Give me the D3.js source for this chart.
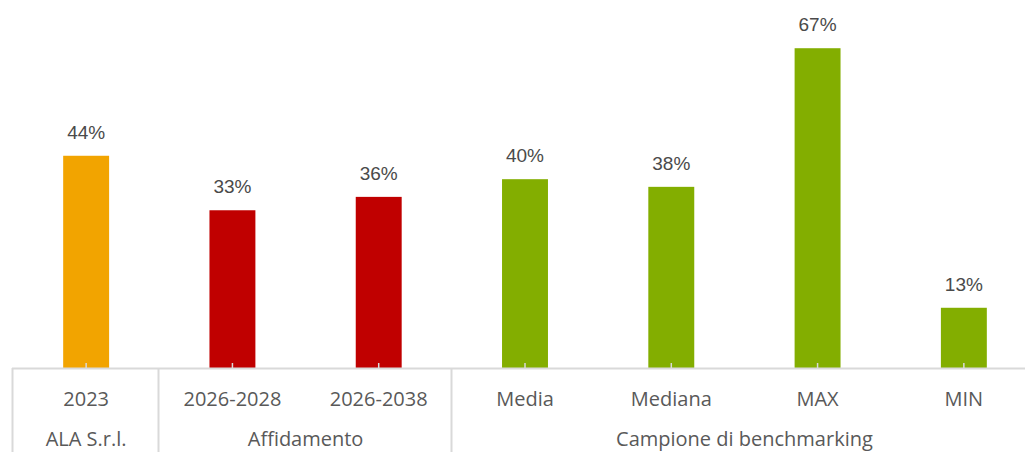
<!DOCTYPE html>
<html>
<head>
<meta charset="utf-8">
<script src="https://cdn.jsdelivr.net/npm/d3@7"></script>
<style>
  body { margin: 0; background: #fff; overflow: hidden; }
  svg { display: block; }
</style>
</head>
<body>
<script>
// chart data
const categories = ['2023', '2026-2028', '2026-2038', 'Media', 'Mediana', 'MAX', 'MIN'];
const values = [0.444, 0.33, 0.358, 0.395, 0.379, 0.669, 0.126];
const barColors = ['#F2A400', '#C00000', '#C00000', '#83AE00', '#83AE00', '#83AE00', '#83AE00'];
const groupNames = ['ALA S.r.l.', 'Affidamento', 'Campione di benchmarking'];
const groupOf = [0, 1, 1, 2, 2, 2, 2];

const width = 1025;
const height = 452;
const baseY = 368;

const svg = d3.select('body')
  .append('svg')
    .attr('width', width)
    .attr('height', height);

const xScale = d3.scaleBand()
  .domain(categories)
  .range([13, 1037])
  .paddingInner(0.686)
  .paddingOuter(0.343);

const yScale = d3.scaleLinear()
  .domain([0, 0.8])
  .range([baseY, baseY - 0.8 * 478]);

const fmt = d3.format('.0%');

// bars
svg.selectAll('rect.bar')
  .data(values)
  .enter().append('rect')
    .attr('class', 'bar')
    .attr('x', (d, i) => xScale(categories[i]))
    .attr('width', xScale.bandwidth())
    .attr('y', (d) => yScale(d))
    .attr('height', (d) => baseY - yScale(d))
    .attr('fill', (d, i) => barColors[i]);

// value labels
svg.selectAll('text.value')
  .data(values)
  .enter().append('text')
    .attr('class', 'value')
    .attr('x', (d, i) => xScale(categories[i]) + xScale.bandwidth() / 2)
    .attr('y', (d) => yScale(d) - 17)
    .attr('text-anchor', 'middle')
    .style('font-family', '"Liberation Sans", Arial, sans-serif')
    .style('font-size', '19px')
    .style('fill', '#4a4a4a')
    .text((d) => fmt(d));

// axis line and little ticks
const step = xScale.step();
svg.append('line')
  .attr('x1', 12).attr('x2', width)
  .attr('y1', baseY + 0.5).attr('y2', baseY + 0.5)
  .attr('stroke', '#d9d9d9')
  .attr('stroke-width', 2);

svg.selectAll('line.tick')
  .data(categories)
  .enter().append('line')
    .attr('class', 'tick')
    .attr('x1', (d) => xScale(d) + xScale.bandwidth() / 2)
    .attr('x2', (d) => xScale(d) + xScale.bandwidth() / 2)
    .attr('y1', baseY - 5).attr('y2', baseY)
    .attr('stroke', '#d9d9d9')
    .attr('stroke-width', 1.5);

// category labels
svg.selectAll('text.cat')
  .data(categories)
  .enter().append('text')
    .attr('class', 'cat')
    .attr('x', (d) => xScale(d) + xScale.bandwidth() / 2)
    .attr('y', 406)
    .attr('text-anchor', 'middle')
    .style('font-family', '"Open Sans", sans-serif')
    .style('font-size', '20px')
    .style('fill', '#595959')
    .text((d) => d);

// group separators and labels
const groups = groupNames.map((name, g) => {
  const idx = groupOf.map((v, i) => v === g ? i : -1).filter((i) => i >= 0);
  const x0 = xScale(categories[idx[0]]) - xScale.paddingOuter() * step;
  const x1 = xScale(categories[idx[idx.length - 1]]) + xScale.bandwidth() + xScale.paddingOuter() * step;
  return { name, x0, x1 };
});

svg.selectAll('line.sep')
  .data(groups)
  .enter().append('line')
    .attr('class', 'sep')
    .attr('x1', (d) => Math.round(d.x0) - 0.5)
    .attr('x2', (d) => Math.round(d.x0) - 0.5)
    .attr('y1', baseY).attr('y2', height)
    .attr('stroke', '#d9d9d9')
    .attr('stroke-width', 2);

svg.selectAll('text.group')
  .data(groups)
  .enter().append('text')
    .attr('class', 'group')
    .attr('x', (d) => (d.x0 + d.x1) / 2)
    .attr('y', 446)
    .attr('text-anchor', 'middle')
    .style('font-family', '"Open Sans", sans-serif')
    .style('font-size', '20px')
    .style('fill', '#595959')
    .text((d) => d.name);
</script>
</body>
</html>
